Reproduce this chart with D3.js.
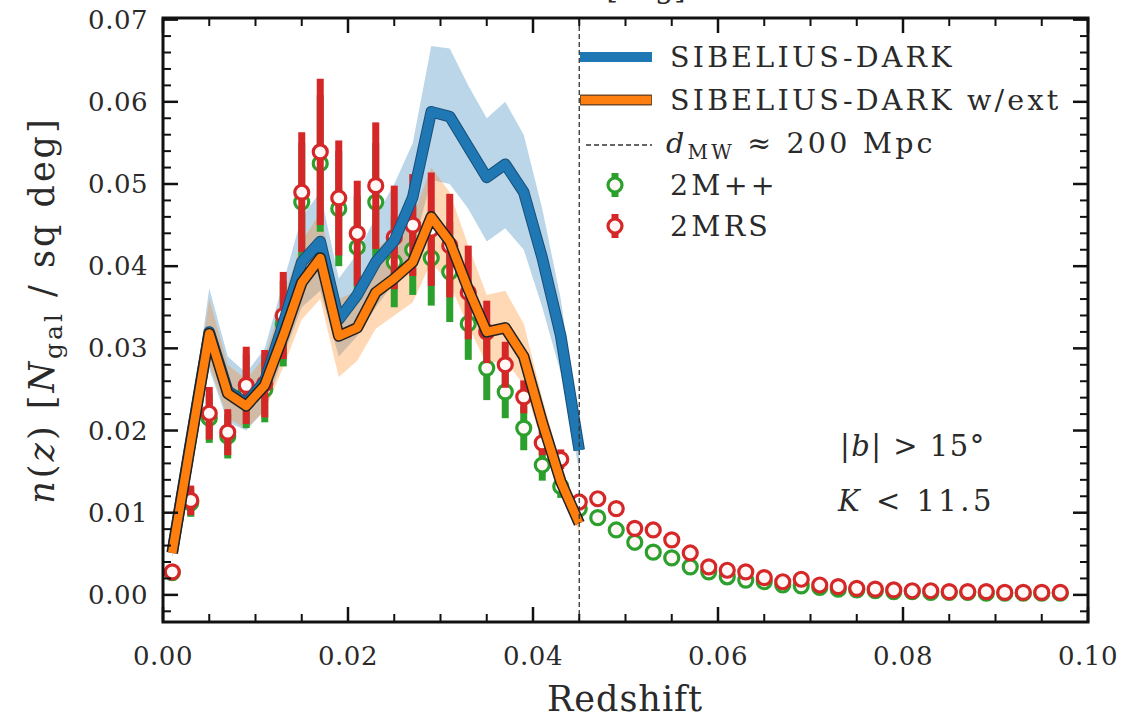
<!DOCTYPE html>
<html>
<head>
<meta charset="utf-8">
<script src="https://cdn.jsdelivr.net/npm/d3@7"></script>
<style>
  body { margin: 0; background: #fff; }
  svg text { font-family: "DejaVu Serif", "Liberation Serif", serif; fill: #2a2a2a; }
</style>
</head>
<body>
<div id="chart"></div>
<script>
// model bins (SIBELIUS-DARK), z centres
const zModel = [0.001, 0.003, 0.005, 0.007, 0.009, 0.011, 0.013, 0.015, 0.017, 0.019, 0.021, 0.023,
  0.025, 0.027, 0.029, 0.031, 0.033, 0.035, 0.037, 0.039, 0.041, 0.043, 0.045];
const sibelius = [0.0052, 0.0187, 0.0320, 0.0248, 0.0233, 0.0260, 0.0330, 0.0405, 0.0430, 0.0335, 0.0365, 0.0405,
  0.0431, 0.0484, 0.0588, 0.0582, 0.0545, 0.0508, 0.0524, 0.0490, 0.0410, 0.0315, 0.0176];
const sibeliusHi = [0.0058, 0.0210, 0.0373, 0.0290, 0.0270, 0.0300, 0.0380, 0.0460, 0.0490, 0.0385, 0.0415, 0.0460,
  0.0500, 0.0550, 0.0668, 0.0665, 0.0620, 0.0580, 0.0600, 0.0560, 0.0470, 0.0360, 0.0200];
const sibeliusLo = [0.0046, 0.0165, 0.0275, 0.0210, 0.0200, 0.0225, 0.0290, 0.0350, 0.0370, 0.0290, 0.0315, 0.0350,
  0.0380, 0.0420, 0.0505, 0.0500, 0.0470, 0.0430, 0.0446, 0.0420, 0.0350, 0.0270, 0.0150];
const sibeliusExt = [0.0051, 0.0185, 0.0318, 0.0245, 0.0230, 0.0255, 0.0315, 0.0380, 0.0410, 0.0315, 0.0325, 0.0368,
  0.0385, 0.0405, 0.0460, 0.0430, 0.0372, 0.0320, 0.0325, 0.0290, 0.0210, 0.0138, 0.0087];
const sibeliusExtHi = [0.0057, 0.0205, 0.0360, 0.0280, 0.0262, 0.0290, 0.0360, 0.0430, 0.0465, 0.0360, 0.0370, 0.0420,
  0.0440, 0.0460, 0.0520, 0.0490, 0.0425, 0.0365, 0.0370, 0.0330, 0.0240, 0.0158, 0.0100];
const sibeliusExtLo = [0.0045, 0.0165, 0.0280, 0.0215, 0.0202, 0.0224, 0.0277, 0.0335, 0.0360, 0.0265, 0.0285, 0.0324,
  0.0340, 0.0356, 0.0405, 0.0378, 0.0327, 0.0281, 0.0286, 0.0255, 0.0185, 0.0121, 0.0077];

// observed bins
const zObs = [0.001, 0.003, 0.005, 0.007, 0.009, 0.011, 0.013, 0.015, 0.017, 0.019, 0.021, 0.023, 0.025,
  0.027, 0.029, 0.031, 0.033, 0.035, 0.037, 0.039, 0.041, 0.043, 0.045, 0.047, 0.049, 0.051, 0.053,
  0.055, 0.057, 0.059, 0.061, 0.063, 0.065, 0.067, 0.069, 0.071, 0.073, 0.075, 0.077, 0.079, 0.081,
  0.083, 0.085, 0.087, 0.089, 0.091, 0.093, 0.095, 0.097];
const twoMpp = [0.0027, 0.0112, 0.0215, 0.0193, 0.0248, 0.0250, 0.0330, 0.0478, 0.0525, 0.0470, 0.0423, 0.0478, 0.0405,
  0.0420, 0.0410, 0.0393, 0.0330, 0.0276, 0.0247, 0.0203, 0.0158, 0.0132, 0.0105, 0.0094, 0.0079, 0.0064, 0.0052,
  0.0045, 0.0034, 0.0028, 0.0022, 0.0018, 0.0016, 0.0012, 0.0011, 0.0009, 0.0007, 0.0006, 0.0005, 0.0004, 0.0004,
  0.0003, 0.0003, 0.0003, 0.0002, 0.0002, 0.0002, 0.0002, 0.0002];
const twoMppErr = [0.0005, 0.0017, 0.0030, 0.0027, 0.0045, 0.0040, 0.0052, 0.0072, 0.0083, 0.0070, 0.0063, 0.0072, 0.0055,
  0.0055, 0.0058, 0.0061, 0.0044, 0.0039, 0.0032, 0.0027, 0.0019, 0.0014, 0.0011, 0.0009, 0.0007, 0.0006, 0.0005,
  0.0004, 0.0003, 0.0003, 0.0003, 0.0002, 0.0002, 0.0002, 0.0002, 0.0001, 0.0001, 0.0001, 0.0001, 0.0001, 0.0001,
  0.0001, 0.0001, 0.0001, 0.0001, 0.0001, 0.0001, 0.0001, 0.0001];
const twoMrs = [0.0028, 0.0115, 0.0221, 0.0198, 0.0255, 0.0257, 0.0340, 0.0490, 0.0539, 0.0483, 0.0440, 0.0498, 0.0435,
  0.0450, 0.0445, 0.0425, 0.0368, 0.0320, 0.0280, 0.0241, 0.0185, 0.0165, 0.0113, 0.0117, 0.0105, 0.0081, 0.0079,
  0.0067, 0.0051, 0.0034, 0.0030, 0.0028, 0.0021, 0.0016, 0.0019, 0.0012, 0.0010, 0.0008, 0.0007, 0.0006, 0.0005,
  0.0005, 0.0004, 0.0004, 0.0004, 0.0003, 0.0003, 0.0003, 0.0003];
const twoMrsErr = [0.0005, 0.0018, 0.0032, 0.0028, 0.0047, 0.0041, 0.0053, 0.0073, 0.0089, 0.0070, 0.0064, 0.0077, 0.0063,
  0.0062, 0.0069, 0.0063, 0.0057, 0.0038, 0.0028, 0.0020, 0.0015, 0.0012, 0.0010, 0.0009, 0.0007, 0.0006, 0.0005,
  0.0005, 0.0004, 0.0003, 0.0003, 0.0003, 0.0002, 0.0002, 0.0002, 0.0002, 0.0001, 0.0001, 0.0001, 0.0001, 0.0001,
  0.0001, 0.0001, 0.0001, 0.0001, 0.0001, 0.0001, 0.0001, 0.0001];

const xMajor = [0, 0.02, 0.04, 0.06, 0.08, 0.10];
const yMajor = [0, 0.01, 0.02, 0.03, 0.04, 0.05, 0.06, 0.07];
const zMW = 0.045;

const W = 1126, H = 719;
const L = 163, R = 1088, T = 18, B = 622;

const svg = d3.select("#chart").append("svg")
  .attr("width", W).attr("height", H);

const x = d3.scaleLinear().domain([0, 0.1]).range([L, R]);
const y = d3.scaleLinear().domain([-0.0033, 0.0702]).range([B, T]);

const blue = "#1f77b4", orange = "#ff7f0e", green = "#2ca02c", red = "#d62728";

// clipped title of the panel above (only its descenders show)
svg.append("text").attr("x", 646).attr("y", -2).attr("text-anchor", "middle")
  .attr("font-size", 30).text("[deg]");

svg.append("clipPath").attr("id", "clip")
  .append("rect").attr("x", L).attr("y", T).attr("width", R - L).attr("height", B - T);
const plot = svg.append("g").attr("clip-path", "url(#clip)");

// bands
const area = (lo, hi) => d3.area()
  .x((d, i) => x(zModel[i]))
  .y0((d, i) => y(lo[i]))
  .y1((d, i) => y(hi[i]));
plot.append("path").attr("d", area(sibeliusLo, sibeliusHi)(zModel))
  .attr("fill", blue).attr("fill-opacity", 0.3);
plot.append("path").attr("d", area(sibeliusExtLo, sibeliusExtHi)(zModel))
  .attr("fill", orange).attr("fill-opacity", 0.3);

// observed points with error bars
function drawPoints(vals, errs, col) {
  const g = plot.append("g");
  g.selectAll("line").data(zObs).enter().append("line")
    .attr("x1", d => x(d)).attr("x2", d => x(d))
    .attr("y1", (d, i) => y(vals[i] - errs[i]))
    .attr("y2", (d, i) => y(vals[i] + errs[i]))
    .attr("stroke", col).attr("stroke-width", 7);
  g.selectAll("circle").data(zObs).enter().append("circle")
    .attr("cx", d => x(d)).attr("cy", (d, i) => y(vals[i]))
    .attr("r", 7).attr("fill", "#fff8f6")
    .attr("stroke", col).attr("stroke-width", 3.2);
}
drawPoints(twoMpp, twoMppErr, green);
drawPoints(twoMrs, twoMrsErr, red);

// model lines
const line = vals => d3.line().x((d, i) => x(zModel[i])).y((d, i) => y(vals[i]));
plot.append("path").attr("d", line(sibelius)(zModel))
  .attr("fill", "none").attr("stroke", "#174f7a").attr("stroke-width", 11.5).attr("stroke-linejoin", "round");
plot.append("path").attr("d", line(sibelius)(zModel))
  .attr("fill", "none").attr("stroke", blue).attr("stroke-width", 9.5).attr("stroke-linejoin", "round");
plot.append("path").attr("d", line(sibeliusExt)(zModel))
  .attr("fill", "none").attr("stroke", "#222").attr("stroke-width", 11.5).attr("stroke-linejoin", "round");
plot.append("path").attr("d", line(sibeliusExt)(zModel))
  .attr("fill", "none").attr("stroke", orange).attr("stroke-width", 8.5).attr("stroke-linejoin", "round");

// MW distance line
plot.append("line")
  .attr("x1", x(zMW)).attr("x2", x(zMW)).attr("y1", T).attr("y2", B)
  .attr("stroke", "#333").attr("stroke-width", 1.3).attr("stroke-dasharray", "5,3");

// frame + ticks
const ax = svg.append("g");
const xMinor = d3.range(0, 0.1001, 0.005).filter(v => !xMajor.some(m => Math.abs(m - v) < 1e-9));
const yMinor = d3.range(-0.002, 0.0701, 0.002).filter(v => !yMajor.some(m => Math.abs(m - v) < 1e-9));
function ticks(list, len, w) {
  list.forEach(v => {
    ax.append("line").attr("x1", x(v)).attr("x2", x(v)).attr("y1", B).attr("y2", B - len)
      .attr("stroke", "#111").attr("stroke-width", w);
    ax.append("line").attr("x1", x(v)).attr("x2", x(v)).attr("y1", T).attr("y2", T + len)
      .attr("stroke", "#111").attr("stroke-width", w);
  });
}
function yticks(list, len, w) {
  list.forEach(v => {
    ax.append("line").attr("x1", L).attr("x2", L + len).attr("y1", y(v)).attr("y2", y(v))
      .attr("stroke", "#111").attr("stroke-width", w);
    ax.append("line").attr("x1", R).attr("x2", R - len).attr("y1", y(v)).attr("y2", y(v))
      .attr("stroke", "#111").attr("stroke-width", w);
  });
}
ticks(xMajor, 15, 2.5);
ticks(xMinor, 8, 2);
yticks(yMajor, 15, 2.5);
yticks(yMinor, 8, 2);
ax.append("rect").attr("x", L).attr("y", T).attr("width", R - L).attr("height", B - T)
  .attr("fill", "none").attr("stroke", "#111").attr("stroke-width", 3);

ax.selectAll(".xl").data(xMajor).enter().append("text")
  .attr("x", d => x(d)).attr("y", 665).attr("text-anchor", "middle")
  .attr("font-size", 26).attr("letter-spacing", 0.5).text(d => d.toFixed(2));
ax.selectAll(".yl").data(yMajor).enter().append("text")
  .attr("x", 148).attr("y", d => y(d) + 9).attr("text-anchor", "end")
  .attr("font-size", 26).attr("letter-spacing", 0.5).text(d => d.toFixed(2));

// axis labels
svg.append("text").attr("x", 625).attr("y", 711).attr("text-anchor", "middle")
  .attr("font-size", 35).attr("letter-spacing", 1).text("Redshift");
const yl = svg.append("text").attr("transform", "translate(54,310) rotate(-90)")
  .attr("text-anchor", "middle").attr("font-size", 35).attr("letter-spacing", 3);
yl.append("tspan").attr("font-style", "italic").text("n");
yl.append("tspan").text("(");
yl.append("tspan").attr("font-style", "italic").text("z");
yl.append("tspan").text(") [");
yl.append("tspan").attr("font-style", "italic").text("N");
yl.append("tspan").attr("font-size", 25).attr("dy", 8).text("gal");
yl.append("tspan").attr("dy", -8).text(" / sq deg]");

// annotation
const a1 = svg.append("text").attr("x", 840).attr("y", 456).attr("font-size", 29).attr("letter-spacing", 1.5);
a1.append("tspan").text("|");
a1.append("tspan").attr("font-style", "italic").text("b");
a1.append("tspan").text("| > 15°");
const a2 = svg.append("text").attr("x", 838).attr("y", 511).attr("font-size", 29).attr("letter-spacing", 3.5);
a2.append("tspan").attr("font-style", "italic").text("K");
a2.append("tspan").text(" < 11.5");

// legend
const lg = svg.append("g");
const lx0 = 580, lx1 = 652, tx = 670;
const rows = [57, 100, 145, 185, 226];
lg.append("line").attr("x1", lx0).attr("x2", lx1).attr("y1", rows[0]).attr("y2", rows[0])
  .attr("stroke", blue).attr("stroke-width", 10);
lg.append("line").attr("x1", lx0).attr("x2", lx1).attr("y1", rows[1]).attr("y2", rows[1])
  .attr("stroke", "#7a4a20").attr("stroke-width", 11);
lg.append("line").attr("x1", lx0 + 1).attr("x2", lx1 - 1).attr("y1", rows[1]).attr("y2", rows[1])
  .attr("stroke", orange).attr("stroke-width", 8);
lg.append("line").attr("x1", lx0 + 6).attr("x2", lx1).attr("y1", rows[2]).attr("y2", rows[2])
  .attr("stroke", "#333").attr("stroke-width", 1.3).attr("stroke-dasharray", "5,3");
[[rows[3], green], [rows[4], red]].forEach(([ry, col]) => {
  lg.append("line").attr("x1", 615).attr("x2", 615).attr("y1", ry - 12).attr("y2", ry + 12)
    .attr("stroke", col).attr("stroke-width", 7);
  lg.append("circle").attr("cx", 615).attr("cy", ry).attr("r", 7)
    .attr("fill", "#fff8f6").attr("stroke", col).attr("stroke-width", 3.2);
});
const lfs = 28.5, lls = 3.2;
lg.append("text").attr("x", tx).attr("y", rows[0] + 10).attr("font-size", lfs).attr("letter-spacing", lls)
  .text("SIBELIUS-DARK");
lg.append("text").attr("x", tx).attr("y", rows[1] + 10).attr("font-size", lfs).attr("letter-spacing", lls)
  .text("SIBELIUS-DARK w/ext");
const dl = lg.append("text").attr("x", tx - 4).attr("y", rows[2] + 8).attr("font-size", lfs).attr("letter-spacing", lls);
dl.append("tspan").attr("font-style", "italic").text("d");
dl.append("tspan").attr("font-size", 20).attr("dy", 6).text("MW");
dl.append("tspan").attr("dy", -6).text(" ≈ 200 Mpc");
lg.append("text").attr("x", tx).attr("y", rows[3] + 10).attr("font-size", lfs).attr("letter-spacing", lls).text("2M++");
lg.append("text").attr("x", tx).attr("y", rows[4] + 10).attr("font-size", lfs).attr("letter-spacing", lls).text("2MRS");
</script>
</body>
</html>
